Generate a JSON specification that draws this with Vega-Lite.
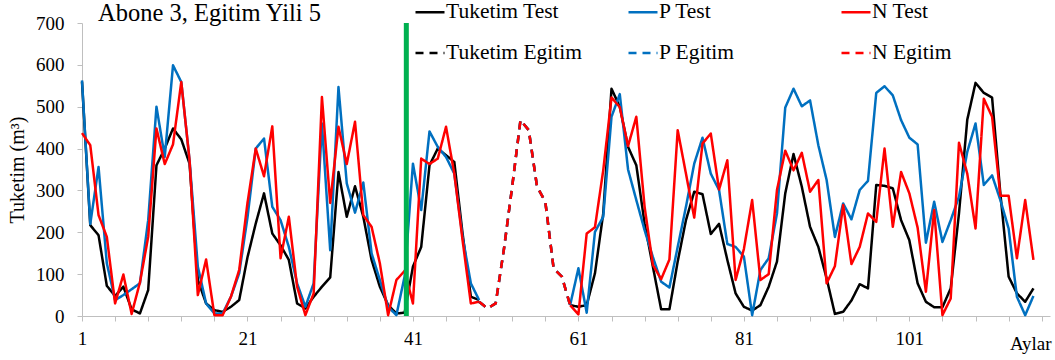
{
  "$schema": "https://vega.github.io/schema/vega-lite/v6.json",
  "width": 968,
  "height": 293,
  "autosize": {"type": "none"},
  "padding": {"left": 82, "top": 23, "right": 5, "bottom": 44},
  "background": "white",
  "title": {"text": "Abone 3, Egitim Yili 5", "anchor": "start", "frame": "group", "orient": "top", "baseline": "alphabetic", "offset": -49, "dx": 16, "fontSize": 24.5, "font": "Liberation Serif", "fontWeight": "normal", "color": "#000000"},
  "config": {
    "view": {"stroke": null},
    "axis": {"labelFont": "Liberation Serif", "titleFont": "Liberation Serif", "labelColor": "#000000", "titleColor": "#000000", "domainColor": "#BFBFBF", "tickColor": "#BFBFBF", "grid": false, "titleFontWeight": "normal", "labelFontSize": 19, "titleFontSize": 20, "tickSize": 5},
    "axisX": {"labelOverlap": false},
    "legend": {"orient": "none", "legendX": 332, "legendY": -27, "columns": 3, "direction": "horizontal", "gridAlign": "all", "columnPadding": 41, "rowPadding": 14, "symbolType": "stroke", "symbolSize": 841, "symbolStrokeWidth": 2.5, "labelFont": "Liberation Serif", "labelFontSize": 21.5, "labelColor": "#000000", "labelOffset": 0, "labelLimit": 0, "padding": 0, "title": null}
  },
  "datasets": {
    "test": [
      {"x":1,"seg":1,"Tuketim Test":560,"P Test":563,"N Test":437},
      {"x":2,"seg":1,"Tuketim Test":217,"P Test":220,"N Test":408},
      {"x":3,"seg":1,"Tuketim Test":193,"P Test":356,"N Test":241},
      {"x":4,"seg":1,"Tuketim Test":72,"P Test":126,"N Test":189},
      {"x":5,"seg":1,"Tuketim Test":48,"P Test":38,"N Test":30},
      {"x":6,"seg":1,"Tuketim Test":70,"P Test":50,"N Test":99},
      {"x":7,"seg":1,"Tuketim Test":16,"P Test":64,"N Test":5},
      {"x":8,"seg":1,"Tuketim Test":6,"P Test":78,"N Test":80},
      {"x":9,"seg":1,"Tuketim Test":62,"P Test":229,"N Test":189},
      {"x":10,"seg":1,"Tuketim Test":360,"P Test":500,"N Test":448},
      {"x":11,"seg":1,"Tuketim Test":400,"P Test":380,"N Test":363},
      {"x":12,"seg":1,"Tuketim Test":448,"P Test":599,"N Test":410},
      {"x":13,"seg":1,"Tuketim Test":422,"P Test":559,"N Test":559},
      {"x":14,"seg":1,"Tuketim Test":364,"P Test":372,"N Test":372},
      {"x":15,"seg":1,"Tuketim Test":86,"P Test":118,"N Test":50},
      {"x":16,"seg":1,"Tuketim Test":30,"P Test":30,"N Test":135},
      {"x":17,"seg":1,"Tuketim Test":14,"P Test":6,"N Test":2},
      {"x":18,"seg":1,"Tuketim Test":10,"P Test":6,"N Test":2},
      {"x":19,"seg":1,"Tuketim Test":22,"P Test":46,"N Test":46},
      {"x":20,"seg":1,"Tuketim Test":38,"P Test":102,"N Test":110},
      {"x":21,"seg":1,"Tuketim Test":140,"P Test":235,"N Test":270},
      {"x":22,"seg":1,"Tuketim Test":221,"P Test":400,"N Test":400},
      {"x":23,"seg":1,"Tuketim Test":293,"P Test":424,"N Test":334},
      {"x":24,"seg":1,"Tuketim Test":197,"P Test":261,"N Test":453},
      {"x":25,"seg":1,"Tuketim Test":169,"P Test":229,"N Test":138},
      {"x":26,"seg":1,"Tuketim Test":134,"P Test":165,"N Test":237},
      {"x":27,"seg":1,"Tuketim Test":30,"P Test":78,"N Test":70},
      {"x":28,"seg":1,"Tuketim Test":18,"P Test":22,"N Test":2},
      {"x":29,"seg":1,"Tuketim Test":46,"P Test":78,"N Test":54},
      {"x":30,"seg":1,"Tuketim Test":70,"P Test":460,"N Test":523},
      {"x":31,"seg":1,"Tuketim Test":92,"P Test":157,"N Test":270},
      {"x":32,"seg":1,"Tuketim Test":344,"P Test":547,"N Test":452},
      {"x":33,"seg":1,"Tuketim Test":237,"P Test":317,"N Test":363},
      {"x":34,"seg":1,"Tuketim Test":310,"P Test":247,"N Test":464},
      {"x":35,"seg":1,"Tuketim Test":237,"P Test":319,"N Test":241},
      {"x":36,"seg":1,"Tuketim Test":134,"P Test":150,"N Test":213},
      {"x":37,"seg":1,"Tuketim Test":70,"P Test":86,"N Test":126},
      {"x":38,"seg":1,"Tuketim Test":26,"P Test":22,"N Test":2},
      {"x":39,"seg":1,"Tuketim Test":6,"P Test":2,"N Test":86},
      {"x":40,"seg":1,"Tuketim Test":8,"P Test":95,"N Test":108},
      {"x":41,"seg":1,"Tuketim Test":118,"P Test":364,"N Test":30},
      {"x":42,"seg":1,"Tuketim Test":165,"P Test":253,"N Test":376},
      {"x":43,"seg":1,"Tuketim Test":360,"P Test":441,"N Test":363},
      {"x":44,"seg":1,"Tuketim Test":400,"P Test":404,"N Test":376},
      {"x":45,"seg":1,"Tuketim Test":384,"P Test":380,"N Test":452},
      {"x":46,"seg":1,"Tuketim Test":368,"P Test":340,"N Test":340},
      {"x":47,"seg":1,"Tuketim Test":197,"P Test":189,"N Test":181},
      {"x":48,"seg":1,"Tuketim Test":46,"P Test":78,"N Test":30},
      {"x":49,"seg":1,"Tuketim Test":38,"P Test":38,"N Test":34},
      {"x":60,"seg":2,"Tuketim Test":26,"P Test":26,"N Test":26},
      {"x":61,"seg":2,"Tuketim Test":22,"P Test":114,"N Test":4},
      {"x":62,"seg":2,"Tuketim Test":26,"P Test":8,"N Test":197},
      {"x":63,"seg":2,"Tuketim Test":102,"P Test":201,"N Test":212},
      {"x":64,"seg":2,"Tuketim Test":245,"P Test":237,"N Test":348},
      {"x":65,"seg":2,"Tuketim Test":543,"P Test":476,"N Test":522},
      {"x":66,"seg":2,"Tuketim Test":500,"P Test":530,"N Test":499},
      {"x":67,"seg":2,"Tuketim Test":404,"P Test":350,"N Test":406},
      {"x":68,"seg":2,"Tuketim Test":360,"P Test":277,"N Test":476},
      {"x":69,"seg":2,"Tuketim Test":221,"P Test":205,"N Test":261},
      {"x":70,"seg":2,"Tuketim Test":118,"P Test":141,"N Test":122},
      {"x":71,"seg":2,"Tuketim Test":16,"P Test":82,"N Test":88},
      {"x":72,"seg":2,"Tuketim Test":16,"P Test":68,"N Test":135},
      {"x":73,"seg":2,"Tuketim Test":130,"P Test":165,"N Test":444},
      {"x":74,"seg":2,"Tuketim Test":229,"P Test":261,"N Test":340},
      {"x":75,"seg":2,"Tuketim Test":297,"P Test":364,"N Test":235},
      {"x":76,"seg":2,"Tuketim Test":291,"P Test":426,"N Test":412},
      {"x":77,"seg":2,"Tuketim Test":196,"P Test":340,"N Test":436},
      {"x":78,"seg":2,"Tuketim Test":220,"P Test":301,"N Test":302},
      {"x":79,"seg":2,"Tuketim Test":134,"P Test":172,"N Test":372},
      {"x":80,"seg":2,"Tuketim Test":54,"P Test":165,"N Test":86},
      {"x":81,"seg":2,"Tuketim Test":22,"P Test":142,"N Test":160},
      {"x":82,"seg":2,"Tuketim Test":13,"P Test":2,"N Test":277},
      {"x":83,"seg":2,"Tuketim Test":26,"P Test":110,"N Test":86},
      {"x":84,"seg":2,"Tuketim Test":70,"P Test":138,"N Test":100},
      {"x":85,"seg":2,"Tuketim Test":130,"P Test":245,"N Test":301},
      {"x":86,"seg":2,"Tuketim Test":293,"P Test":498,"N Test":395},
      {"x":87,"seg":2,"Tuketim Test":387,"P Test":543,"N Test":348},
      {"x":88,"seg":2,"Tuketim Test":309,"P Test":501,"N Test":390},
      {"x":89,"seg":2,"Tuketim Test":213,"P Test":515,"N Test":297},
      {"x":90,"seg":2,"Tuketim Test":165,"P Test":408,"N Test":325},
      {"x":91,"seg":2,"Tuketim Test":90,"P Test":325,"N Test":78},
      {"x":92,"seg":2,"Tuketim Test":5,"P Test":189,"N Test":119},
      {"x":93,"seg":2,"Tuketim Test":10,"P Test":269,"N Test":265},
      {"x":94,"seg":2,"Tuketim Test":37,"P Test":231,"N Test":124},
      {"x":95,"seg":2,"Tuketim Test":76,"P Test":301,"N Test":165},
      {"x":96,"seg":2,"Tuketim Test":66,"P Test":323,"N Test":245},
      {"x":97,"seg":2,"Tuketim Test":313,"P Test":533,"N Test":225},
      {"x":98,"seg":2,"Tuketim Test":311,"P Test":549,"N Test":400},
      {"x":99,"seg":2,"Tuketim Test":305,"P Test":527,"N Test":213},
      {"x":100,"seg":2,"Tuketim Test":229,"P Test":468,"N Test":344},
      {"x":101,"seg":2,"Tuketim Test":181,"P Test":426,"N Test":293},
      {"x":102,"seg":2,"Tuketim Test":78,"P Test":410,"N Test":211},
      {"x":103,"seg":2,"Tuketim Test":34,"P Test":175,"N Test":58},
      {"x":104,"seg":2,"Tuketim Test":21,"P Test":273,"N Test":253},
      {"x":105,"seg":2,"Tuketim Test":21,"P Test":177,"N Test":2},
      {"x":106,"seg":2,"Tuketim Test":66,"P Test":229,"N Test":42},
      {"x":107,"seg":2,"Tuketim Test":245,"P Test":285,"N Test":414},
      {"x":108,"seg":2,"Tuketim Test":469,"P Test":392,"N Test":340},
      {"x":109,"seg":2,"Tuketim Test":557,"P Test":460,"N Test":209},
      {"x":110,"seg":2,"Tuketim Test":533,"P Test":313,"N Test":519},
      {"x":111,"seg":2,"Tuketim Test":522,"P Test":336,"N Test":476},
      {"x":112,"seg":2,"Tuketim Test":293,"P Test":277,"N Test":287},
      {"x":113,"seg":2,"Tuketim Test":94,"P Test":209,"N Test":287},
      {"x":114,"seg":2,"Tuketim Test":54,"P Test":46,"N Test":138},
      {"x":115,"seg":2,"Tuketim Test":34,"P Test":2,"N Test":277},
      {"x":116,"seg":2,"Tuketim Test":66,"P Test":48,"N Test":134}
    ],
    "train": [
      {"x":49,"Tuketim Egitim":34,"P Egitim":34,"N Egitim":34},
      {"x":50,"Tuketim Egitim":18,"P Egitim":18,"N Egitim":18},
      {"x":51,"Tuketim Egitim":30,"P Egitim":30,"N Egitim":30},
      {"x":52,"Tuketim Egitim":160,"P Egitim":160,"N Egitim":160},
      {"x":53,"Tuketim Egitim":310,"P Egitim":310,"N Egitim":310},
      {"x":54,"Tuketim Egitim":468,"P Egitim":468,"N Egitim":468},
      {"x":55,"Tuketim Egitim":444,"P Egitim":444,"N Egitim":444},
      {"x":56,"Tuketim Egitim":309,"P Egitim":309,"N Egitim":309},
      {"x":57,"Tuketim Egitim":273,"P Egitim":273,"N Egitim":273},
      {"x":58,"Tuketim Egitim":114,"P Egitim":114,"N Egitim":114},
      {"x":59,"Tuketim Egitim":94,"P Egitim":94,"N Egitim":94},
      {"x":60,"Tuketim Egitim":26,"P Egitim":26,"N Egitim":26}
    ],
    "split": [{"x": 40.2}]
  },
  "layer": [
    {
      "encoding": {
        "x": {"field": "x", "type": "quantitative", "scale": {"domain": [1, 118], "nice": false, "zero": false},
          "axis": {"values": [1,5,9,13,17,21,25,29,33,37,41,45,49,53,57,61,65,69,73,77,81,85,89,93,97,101,105,109,113,117],
            "labelExpr": "(datum.value - 1) % 20 == 0 && datum.value <= 101 ? datum.label : ''",
            "labelFlush": false, "labelOverlap": false, "labelPadding": 8,
            "title": "Aylar", "titleX": 969, "titleY": 33, "titleAlign": "right", "titleAnchor": null, "titleBaseline": "alphabetic", "titleFontSize": 19}},
        "y": {"field": "v", "type": "quantitative", "scale": {"domain": [0, 700], "nice": false},
          "axis": {"values": [0,100,200,300,400,500,600,700], "title": "Tuketim (m³)", "labelPadding": 13, "titlePadding": 8}},
        "color": {"field": "s", "type": "nominal", "title": null,
          "scale": {"domain": ["Tuketim Test", "P Test", "N Test", "Tuketim Egitim", "P Egitim", "N Egitim"],
            "range": ["#000000", "#0070C0", "#FF0000", "#000000", "#0070C0", "#FF0000"]}},
        "strokeDash": {"field": "s", "type": "nominal", "title": null,
          "scale": {"domain": ["Tuketim Test", "P Test", "N Test", "Tuketim Egitim", "P Egitim", "N Egitim"],
            "range": [[1, 0], [1, 0], [1, 0], [8, 6], [8, 6], [8, 6]]}}
      },
      "layer": [
        {
          "data": {"name": "test"},
          "transform": [{"fold": ["Tuketim Test", "P Test", "N Test"], "as": ["s", "v"]}],
          "mark": {"type": "line", "strokeWidth": 2.5, "strokeJoin": "round"},
          "encoding": {"detail": {"field": "seg", "type": "nominal"}}
        },
        {
          "data": {"name": "train"},
          "transform": [{"fold": ["Tuketim Egitim", "P Egitim", "N Egitim"], "as": ["s", "v"]}],
          "mark": {"type": "line", "strokeWidth": 2.5, "strokeJoin": "round"}
        }
      ]
    },
    {
      "data": {"name": "split"},
      "mark": {"type": "rule", "color": "#00B050", "strokeWidth": 5},
      "encoding": {"x": {"field": "x", "type": "quantitative",
        "axis": {"values": [1,5,9,13,17,21,25,29,33,37,41,45,49,53,57,61,65,69,73,77,81,85,89,93,97,101,105,109,113,117],
            "labelExpr": "(datum.value - 1) % 20 == 0 && datum.value <= 101 ? datum.label : ''",
            "labelFlush": false, "labelOverlap": false, "labelPadding": 8,
            "title": "Aylar", "titleX": 969, "titleY": 33, "titleAlign": "right", "titleAnchor": null, "titleBaseline": "alphabetic", "titleFontSize": 19}}}
    }
  ]
}
